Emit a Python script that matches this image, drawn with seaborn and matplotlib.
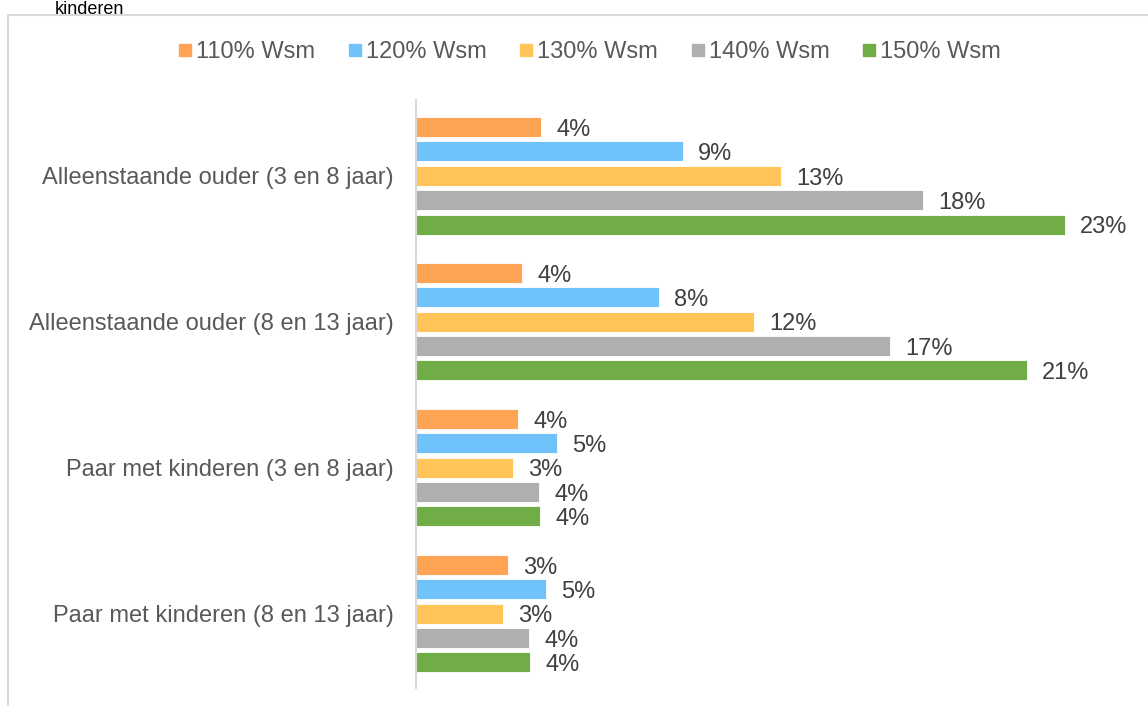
import numpy as np
import pandas as pd
import matplotlib
matplotlib.use("Agg")
import matplotlib.pyplot as plt
import seaborn as sns
from matplotlib.lines import Line2D

# Data (bar lengths in %)
CATEGORIES = [
    "Alleenstaande ouder (3 en 8 jaar)",
    "Alleenstaande ouder (8 en 13 jaar)",
    "Paar met kinderen (3 en 8 jaar)",
    "Paar met kinderen (8 en 13 jaar)",
]
SERIES = ["110% Wsm", "120% Wsm", "130% Wsm", "140% Wsm", "150% Wsm"]
WSM_110 = [4.36, 3.69, 3.55, 3.21]
WSM_120 = [9.30, 8.47, 4.91, 4.53]
WSM_130 = [12.72, 11.78, 3.38, 3.03]
WSM_140 = [17.67, 16.52, 4.29, 3.94]
WSM_150 = [22.61, 21.29, 4.32, 3.97]
COLORS = ["#FFA355", "#70C3FA", "#FFC559", "#AFAFAF", "#70AD47"]

sns.set_theme(style="white")
plt.rcParams["font.family"] = ["Liberation Sans", "DejaVu Sans"]

rows = []
for serie, vals in zip(SERIES, [WSM_110, WSM_120, WSM_130, WSM_140, WSM_150]):
    for cat, v in zip(CATEGORIES, vals):
        rows.append({"categorie": cat, "serie": serie, "waarde": v})
df = pd.DataFrame(rows)

fig = plt.figure(figsize=(11.48, 7.06), dpi=100)
ax = fig.add_axes([0.3624, 0.0255, 0.6246, 0.833])

sns.barplot(
    data=df, x="waarde", y="categorie", hue="serie",
    order=CATEGORIES, hue_order=SERIES, palette=COLORS, saturation=1,
    orient="h", width=0.835, gap=0.18, errorbar=None,
    edgecolor="white", linewidth=0.6, ax=ax,
)

for cont in ax.containers:
    anns = ax.bar_label(cont, labels=[f"{b.get_width():.0f}%" for b in cont],
                        padding=11, fontsize=17, color="#404040")
    for a in anns:
        a.xyann = (11, -2)

ax.set_xlim(0, 25)
ax.set_ylim(3.51, -0.52)
ax.set_xlabel("")
ax.set_ylabel("")
ax.set_xticks([])
ax.tick_params(axis="y", length=0, pad=16, labelsize=17, labelcolor="#595959")
for side in ["top", "right", "bottom"]:
    ax.spines[side].set_visible(False)
ax.spines["left"].set_color("#D9D9D9")
ax.spines["left"].set_linewidth(1.5)
ax.patch.set_alpha(0)

ax.get_legend().remove()
handles = [Line2D([], [], marker="s", linestyle="none", markersize=8.5,
                  markerfacecolor=c, markeredgecolor=c) for c in COLORS]
fig.legend(handles, SERIES, ncol=5, loc="center", bbox_to_anchor=(0.514, 0.926),
           frameon=False, fontsize=17, labelcolor="#595959",
           handlelength=0.5, handletextpad=0.2, columnspacing=1.45)

# outer chart frame and the title above it
fig.add_artist(Line2D([0.007, 0.007], [0, 0.979], color="#D9D9D9", lw=1.5,
                      transform=fig.transFigure))
fig.add_artist(Line2D([0.007, 1], [0.979, 0.979], color="#D9D9D9", lw=1.5,
                      transform=fig.transFigure))
fig.text(0.048, 0.999, "kinderen", fontsize=13, color="#000000", va="top")

fig.savefig("out.png", dpi=100)
